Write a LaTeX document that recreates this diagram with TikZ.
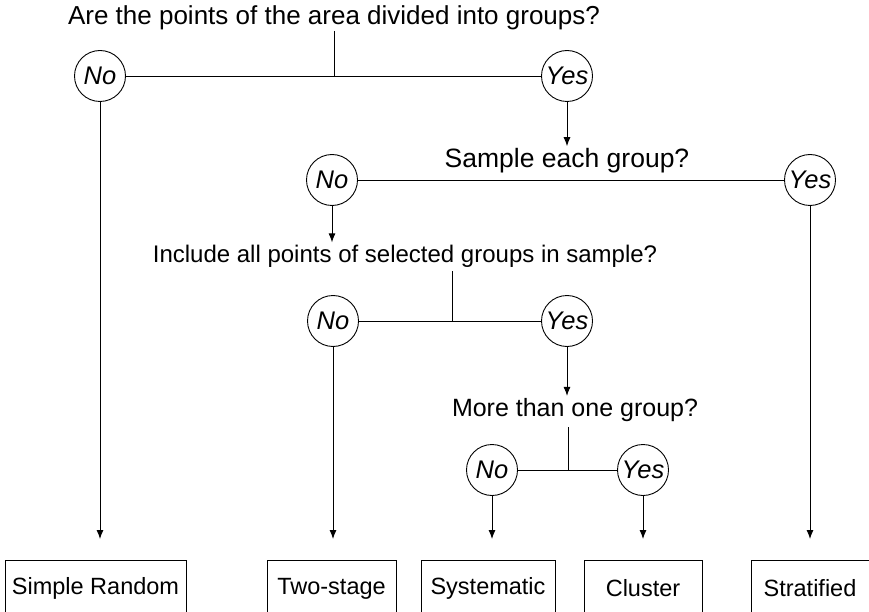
\documentclass[tikz,border=0pt]{standalone}
\usepackage{fontspec}
\setmainfont{Liberation Sans}
\usetikzlibrary{arrows.meta}
\begin{document}
\begin{tikzpicture}[x=1pt,y=-1pt,
  line width=0.9pt,
  every node/.style={font=\fontsize{23.5}{28}\selectfont},
  qtext/.style={inner sep=2pt},
  ans/.style={draw,circle,minimum size=51pt,inner sep=0pt,font=\fontsize{25.5}{28}\selectfont\itshape},
  result/.style={draw,rectangle,anchor=north,minimum height=56pt,inner sep=0pt},
  arr/.style={-{Latex[length=9pt,width=7pt]}},
  toBox/.style={arr,shorten >=21pt}
]
\useasboundingbox (0,0) rectangle (869,612);
\clip (0,0) rectangle (869,612);
% questions
\node[qtext,font=\fontsize{26}{30}\selectfont] (q1) at (334,18) {Are the points of the area divided into groups?};
\node[qtext,font=\fontsize{26.5}{30}\selectfont] (q2) at (567,161) {Sample each group?};
\node[qtext,font=\fontsize{24}{28}\selectfont] (q3) at (405,256) {Include all points of selected groups in sample?};
\node[qtext,font=\fontsize{25}{28}\selectfont] (q4) at (575,410) {More than one group?};
% answers
\node[ans] (n1) at (100,76) {No};
\node[ans] (y1) at (567,76) {Yes};
\node[ans] (n2) at (332,180) {No};
\node[ans] (y2) at (810,180) {Yes};
\node[ans] (n3) at (333,321) {No};
\node[ans] (y3) at (567,321) {Yes};
\node[ans] (n4) at (492,470) {No};
\node[ans] (y4) at (643,470) {Yes};
% results
\node[result,minimum width=181pt] (sr) at (95.5,560) {Simple Random};
\node[result,minimum width=129pt] (ts) at (331.5,560) {Two-stage};
\node[result,minimum width=134pt] (sy) at (488,560) {Systematic};
\node[result,minimum width=118pt] (cl) at (643,560) {Cluster};
\node[result,minimum width=118pt] (st) at (810,560) {Stratified};
% junctions
\coordinate (j1t) at (334,31);
\coordinate (j1) at (334,76);
\coordinate (j3t) at (452,271);
\coordinate (j3) at (452,321);
\coordinate (j4t) at (568,427);
\coordinate (j4) at (568,470);
% connectors
\draw (j1t) -- (j1);
\draw (n1) -- (y1);
\draw (n2) -- (y2);
\draw (j3t) -- (j3);
\draw (n3) -- (y3);
\draw (j4t) -- (j4);
\draw (n4) -- (y4);
\draw[arr] (y1) -- (y1 |- q2.north);
\draw[arr] (n2) -- (n2 |- q3.north);
\draw[arr] (y3) -- (y3 |- q4.north);
\draw[toBox] (n1) -- (n1 |- sr.north);
\draw[toBox] (y2) -- (y2 |- st.north);
\draw[toBox] (n3) -- (n3 |- ts.north);
\draw[toBox] (n4) -- (n4 |- sy.north);
\draw[toBox] (y4) -- (y4 |- cl.north);
\end{tikzpicture}
\end{document}
